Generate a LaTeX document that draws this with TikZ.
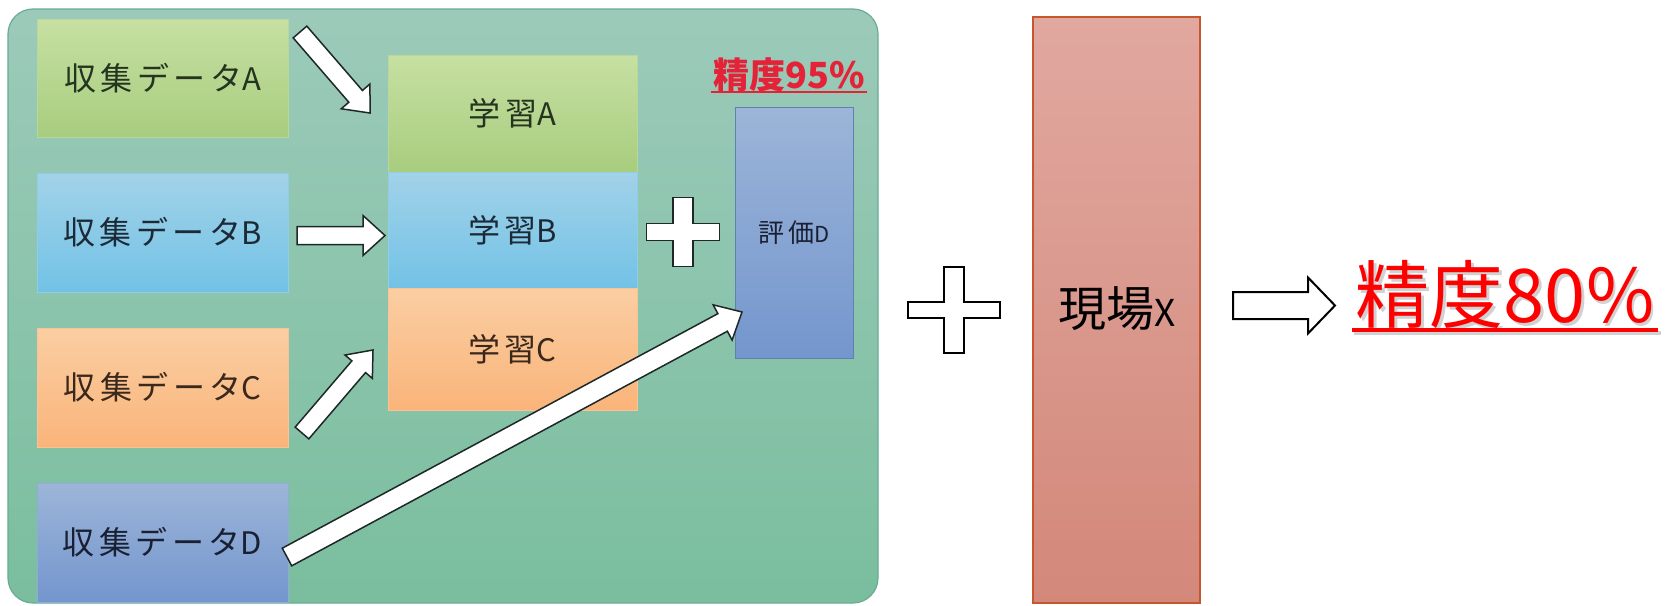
\documentclass[tikz,border=0pt]{standalone}
\usepackage{fontspec}
\newfontfamily\jp{Noto Sans CJK JP}
\newfontfamily\jpwide[LetterSpace=14]{Noto Sans CJK JP}
\usetikzlibrary{calc}

% palette
\definecolor{panelTop}{RGB}{156,202,186}
\definecolor{panelBot}{RGB}{122,190,158}
\definecolor{panelEdge}{RGB}{104,172,150}
\definecolor{grnTop}{RGB}{198,224,162}
\definecolor{grnBot}{RGB}{168,205,126}
\definecolor{bluTop}{RGB}{162,210,232}
\definecolor{bluBot}{RGB}{114,194,230}
\definecolor{orgTop}{RGB}{250,206,162}
\definecolor{orgBot}{RGB}{250,180,122}
\definecolor{navTop}{RGB}{156,181,216}
\definecolor{navBot}{RGB}{116,150,206}
\definecolor{navEdge}{RGB}{96,128,178}
\definecolor{siteTop}{RGB}{225,168,160}
\definecolor{siteBot}{RGB}{211,136,122}
\definecolor{siteEdge}{RGB}{198,86,46}
\definecolor{accRed}{RGB}{255,0,0}
\definecolor{accRedSoft}{RGB}{228,34,56}
\definecolor{inkGrn}{RGB}{36,52,32}
\definecolor{inkBlu}{RGB}{28,42,56}
\definecolor{inkOrg}{RGB}{58,40,28}
\definecolor{inkNav}{RGB}{26,32,52}
\definecolor{arrEdge}{RGB}{30,40,40}

% smaller Latin letter after Japanese text
\newcommand\ltr[2]{{\fontsize{#1}{#1}\selectfont #2}}

% block arrow between two named points:
% #1 style, #2 tail, #3 tip, #4 half shaft width, #5 half head width, #6 head length
\newcommand\blockarrow[6]{%
  \coordinate (ba-n) at ($(#3)!#6!(#2)$);
  \draw[#1] ($(#2)!#4!90:(#3)$) -- ($(ba-n)!#4!90:(#3)$) -- ($(ba-n)!#5!90:(#3)$)
    -- (#3) -- ($(ba-n)!#5!-90:(#3)$) -- ($(ba-n)!#4!-90:(#3)$)
    -- ($(#2)!#4!-90:(#3)$) -- cycle;
}

% plus sign: #1 style, #2 centre, #3 half arm length (horizontal), #4 half thickness of horizontal arm,
% #5 half thickness of vertical arm, #6 half arm length (vertical)
\newcommand\plussign[6]{%
  \draw[#1, shift={(#2)}] (-#3,-#4) -- (-#5,-#4) -- (-#5,-#6) -- (#5,-#6) -- (#5,-#4)
    -- (#3,-#4) -- (#3,#4) -- (#5,#4) -- (#5,#6) -- (-#5,#6) -- (-#5,#4) -- (-#3,#4) -- cycle;
}

\tikzset{
  box/.style={inner sep=0pt, outer sep=0pt, line width=0.8pt,
    font=\jpwide\fontsize{32}{36}\selectfont},
  grnbox/.style={box, top color=grnTop, bottom color=grnBot, draw=grnBot!80!white, text=inkGrn},
  blubox/.style={box, top color=bluTop, bottom color=bluBot, draw=bluBot!80!white, text=inkBlu},
  orgbox/.style={box, top color=orgTop, bottom color=orgBot, draw=orgBot!80!white, text=inkOrg},
  navbox/.style={box, top color=navTop, bottom color=navBot, draw=navBot!80!white, text=inkNav},
  databox/.style={minimum width=251pt, minimum height=119pt},
  learnbox/.style={minimum width=249pt},
  panelarrow/.style={fill=white, draw=arrEdge, line width=1.5pt, line join=miter},
  outlinearrow/.style={fill=white, draw=black, line width=2pt, line join=miter},
  panelplus/.style={fill=white, draw=arrEdge, line width=1.5pt},
  outlineplus/.style={fill=white, draw=black, line width=2pt},
  bigred/.style={anchor=base, inner sep=0pt, inner xsep=4pt, font=\jp\fontsize{74}{80}\selectfont},
}

\begin{document}
\begin{tikzpicture}[x=1pt, y=-1pt]
  \useasboundingbox[fill=white] (0,0) rectangle (1669,605);

  % rounded green panel behind the training flow
  \draw[top color=panelTop, bottom color=panelBot, draw=panelEdge, line width=1.2pt,
        rounded corners=25pt] (8,9) rectangle (878,603);

  % collected data
  \node[grnbox, databox, minimum height=118pt] (dA) at (162.5,78)    {収集データ\ltr{31}{A}};
  \node[blubox, databox] (dB) at (162.5,232.5) {収集データ\ltr{31}{B}};
  \node[orgbox, databox] (dC) at (162.5,387.5) {収集データ\ltr{31}{C}};
  \node[navbox, databox] (dD) at (162.5,542.5) {収集データ\ltr{31}{D}};

  % stacked training blocks
  \node[grnbox, learnbox, minimum height=117pt] (lA) at (512.5,113.5) {学習\ltr{31}{A}};
  \node[blubox, learnbox, minimum height=116pt] (lB) at (512.5,230)   {学習\ltr{31}{B}};
  \node[orgbox, learnbox, minimum height=122pt] (lC) at (512.5,349)   {学習\ltr{31}{C}};

  % evaluation block and its accuracy
  \node[box, top color=navTop, bottom color=navBot, draw=navEdge, text=inkNav,
        minimum width=118pt, minimum height=251pt,
        font=\jpwide\fontsize{26}{30}\selectfont] (eD) at (794,232.5) {評価\ltr{22}{D}};
  \node[anchor=base, inner sep=0pt, text=accRedSoft,
        font=\jp\bfseries\fontsize{36}{40}\selectfont] (acc95) at (789,88) {精度95\%};
  \draw[accRedSoft, line width=2.5pt]
    ([xshift=-2pt, yshift=-4pt]acc95.base west) -- ([xshift=2pt, yshift=-4pt]acc95.base east);

  % arrows from data to training / evaluation
  \coordinate (tA) at (300,32);    \coordinate (hA) at (370,113);
  \coordinate (tB) at (297,235.5); \coordinate (hB) at (385,235.5);
  \coordinate (tC) at (302,433);   \coordinate (hC) at (373,350);
  \coordinate (tD) at (287,557);   \coordinate (hD) at (742,312);
  \blockarrow{panelarrow}{tA}{hA}{9pt}{19pt}{22pt}
  \blockarrow{panelarrow}{tB}{hB}{9pt}{20pt}{22pt}
  \blockarrow{panelarrow}{tC}{hC}{9pt}{18pt}{22pt}
  \blockarrow{panelarrow}{tD}{hD}{10pt}{20pt}{22pt}

  % training + evaluation
  \coordinate (pSmall) at (683,232);
  \plussign{panelplus}{pSmall}{36.5}{8.5}{10}{34.5}

  % ... + site data
  \coordinate (pBig) at (954,310);
  \plussign{outlineplus}{pBig}{46}{8}{10}{43}

  \node[box, top color=siteTop, bottom color=siteBot, draw=siteEdge, line width=1.8pt,
        minimum width=167pt, minimum height=586pt] (site) at (1116.5,310) {};
  \node[inner sep=0pt, font=\jp\fontsize{48}{52}\selectfont] (siteLbl) at (1117,309)
    {現場\ltr{37}{X}};

  % result, with a soft drop shadow
  \node[bigred, text=black, opacity=0.18] (acc80s) at (1507.5,325) {精度80\%};
  \draw[black, opacity=0.18, line width=4pt]
    ([yshift=-8pt]acc80s.base west) -- ([yshift=-8pt]acc80s.base east);
  \node[bigred, text=accRed] (acc80) at (1505,322) {精度80\%};
  \draw[accRed, line width=4pt]
    ([yshift=-8pt]acc80.base west) -- ([yshift=-8pt]acc80.base east);

  \coordinate (tR) at (1233,305.5); \coordinate (hR) at (1335,305.5);
  \blockarrow{outlinearrow}{tR}{hR}{13.5pt}{28pt}{27pt}
\end{tikzpicture}
\end{document}
